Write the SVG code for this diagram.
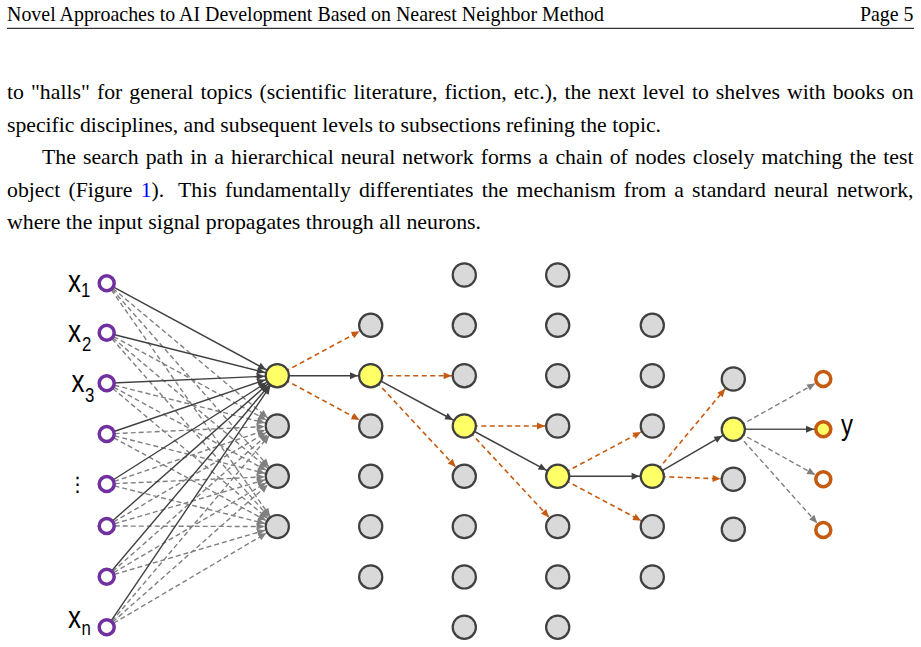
<svg xmlns="http://www.w3.org/2000/svg" width="921" height="647" viewBox="0 0 921 647">
<style>
.hdr{font-family:"Liberation Serif","Times New Roman",serif;font-size:19.9px;fill:#000}
.txt{font-family:"Liberation Serif","Times New Roman",serif;font-size:21.75px;fill:#000}
.lbl{font-family:"Liberation Sans",Arial,sans-serif;font-size:31px;fill:#000}
.sub{font-family:"Liberation Sans",Arial,sans-serif;font-size:20px;fill:#000}
.g{fill:#D9D9D9;stroke:#404040;stroke-width:2.2}
.yl{fill:#FFFF66;stroke:#404040;stroke-width:2.2}
.in{fill:#fff;stroke:#7030A0;stroke-width:3.5}
.out{fill:#fff;stroke:#C55A11;stroke-width:3.5}
.outy{fill:#FFFF66;stroke:#C55A11;stroke-width:3.5}
line{fill:none}
.sIn{stroke:#404040;stroke-width:1.4;marker-end:url(#eD12)}
.dIn{stroke:#808080;stroke-width:1.4;stroke-dasharray:5 3;marker-end:url(#eG12)}
.sL{stroke:#404040;stroke-width:1.5;marker-end:url(#eD12)}
.oL{stroke:#C55A11;stroke-width:1.6;stroke-dasharray:5 3.5;marker-end:url(#eO12)}
.sOut{stroke:#555555;stroke-width:1.5;marker-end:url(#eD9)}
.dOut{stroke:#808080;stroke-width:1.4;stroke-dasharray:5 3;marker-end:url(#eG9)}
</style>
<defs>
<marker id="eD12" markerUnits="userSpaceOnUse" orient="auto" overflow="visible" refX="12.7" refY="0" markerWidth="10" markerHeight="10"><path d="M-8,-3.5 L0,0 L-8,3.5 z" fill="#404040"/></marker>
<marker id="eG12" markerUnits="userSpaceOnUse" orient="auto" overflow="visible" refX="12.7" refY="0" markerWidth="10" markerHeight="10"><path d="M-8,-3.5 L0,0 L-8,3.5 z" fill="#808080"/></marker>
<marker id="eO12" markerUnits="userSpaceOnUse" orient="auto" overflow="visible" refX="12.7" refY="0" markerWidth="10" markerHeight="10"><path d="M-8,-3.5 L0,0 L-8,3.5 z" fill="#C55A11"/></marker>
<marker id="eD9" markerUnits="userSpaceOnUse" orient="auto" overflow="visible" refX="9.3" refY="0" markerWidth="10" markerHeight="10"><path d="M-8,-3.5 L0,0 L-8,3.5 z" fill="#404040"/></marker>
<marker id="eG9" markerUnits="userSpaceOnUse" orient="auto" overflow="visible" refX="9.3" refY="0" markerWidth="10" markerHeight="10"><path d="M-8,-3.5 L0,0 L-8,3.5 z" fill="#808080"/></marker>
</defs>
<rect width="921" height="647" fill="#fff"/>

<g id="page-text">
<text class="hdr" x="7" y="20.5" textLength="597" lengthAdjust="spacing">Novel Approaches to AI Development Based on Nearest Neighbor Method</text>
<text class="hdr" x="913.5" y="20.5" text-anchor="end">Page 5</text>
<line x1="7" y1="28.3" x2="914" y2="28.3" stroke="#000" stroke-width="1"/>
<text class="txt" x="7" y="99.3" word-spacing="1.6" textLength="906.5" lengthAdjust="spacing">to "halls" for general topics (scientific literature, fiction, etc.), the next level to shelves with books on</text>
<text class="txt" x="7" y="131.8" textLength="654" lengthAdjust="spacingAndGlyphs">specific disciplines, and subsequent levels to subsections refining the topic.</text>
<text class="txt" x="42" y="164.3" word-spacing="1.7" textLength="871.5" lengthAdjust="spacing">The search path in a hierarchical neural network forms a chain of nodes closely matching the test</text>
<text class="txt" x="7" y="196.8" word-spacing="2.7" textLength="906.5" lengthAdjust="spacing">object (Figure <tspan fill="#0000FF">1</tspan>). <tspan dx="6">This fundamentally differentiates the mechanism from a standard neural network,</tspan></text>
<text class="txt" x="7" y="229.3" textLength="474" lengthAdjust="spacingAndGlyphs">where the input signal propagates through all neurons.</text>
</g>

<g id="connectors">
<line class="dIn" x1="106.7" y1="283.3" x2="277.3" y2="426"/>
<line class="dIn" x1="106.7" y1="283.3" x2="277.3" y2="476.3"/>
<line class="dIn" x1="106.7" y1="283.3" x2="277.3" y2="526.6"/>
<line class="dIn" x1="106.7" y1="332.7" x2="277.3" y2="426"/>
<line class="dIn" x1="106.7" y1="332.7" x2="277.3" y2="476.3"/>
<line class="dIn" x1="106.7" y1="332.7" x2="277.3" y2="526.6"/>
<line class="dIn" x1="106.7" y1="383.3" x2="277.3" y2="426"/>
<line class="dIn" x1="106.7" y1="383.3" x2="277.3" y2="476.3"/>
<line class="dIn" x1="106.7" y1="383.3" x2="277.3" y2="526.6"/>
<line class="dIn" x1="106.7" y1="434" x2="277.3" y2="426"/>
<line class="dIn" x1="106.7" y1="434" x2="277.3" y2="476.3"/>
<line class="dIn" x1="106.7" y1="434" x2="277.3" y2="526.6"/>
<line class="dIn" x1="106.7" y1="484" x2="277.3" y2="426"/>
<line class="dIn" x1="106.7" y1="484" x2="277.3" y2="476.3"/>
<line class="dIn" x1="106.7" y1="484" x2="277.3" y2="526.6"/>
<line class="dIn" x1="106.7" y1="526" x2="277.3" y2="426"/>
<line class="dIn" x1="106.7" y1="526" x2="277.3" y2="476.3"/>
<line class="dIn" x1="106.7" y1="526" x2="277.3" y2="526.6"/>
<line class="dIn" x1="106.7" y1="576.7" x2="277.3" y2="426"/>
<line class="dIn" x1="106.7" y1="576.7" x2="277.3" y2="476.3"/>
<line class="dIn" x1="106.7" y1="576.7" x2="277.3" y2="526.6"/>
<line class="dIn" x1="106.7" y1="627.3" x2="277.3" y2="426"/>
<line class="dIn" x1="106.7" y1="627.3" x2="277.3" y2="476.3"/>
<line class="dIn" x1="106.7" y1="627.3" x2="277.3" y2="526.6"/>
<line class="sIn" x1="106.7" y1="283.3" x2="277.3" y2="375.7"/>
<line class="sIn" x1="106.7" y1="332.7" x2="277.3" y2="375.7"/>
<line class="sIn" x1="106.7" y1="383.3" x2="277.3" y2="375.7"/>
<line class="sIn" x1="106.7" y1="434" x2="277.3" y2="375.7"/>
<line class="sIn" x1="106.7" y1="484" x2="277.3" y2="375.7"/>
<line class="sIn" x1="106.7" y1="526" x2="277.3" y2="375.7"/>
<line class="sIn" x1="106.7" y1="576.7" x2="277.3" y2="375.7"/>
<line class="sIn" x1="106.7" y1="627.3" x2="277.3" y2="375.7"/>
<line class="oL" x1="277.3" y1="375.7" x2="370.7" y2="325.3"/>
<line class="oL" x1="277.3" y1="375.7" x2="370.7" y2="426"/>
<line class="sL" x1="277.3" y1="375.7" x2="370.7" y2="375.7"/>
<line class="oL" x1="370.7" y1="375.7" x2="464.3" y2="375.7"/>
<line class="oL" x1="370.7" y1="375.7" x2="464.3" y2="476.3"/>
<line class="sL" x1="370.7" y1="375.7" x2="464.3" y2="426"/>
<line class="oL" x1="464.3" y1="426" x2="557.7" y2="426"/>
<line class="oL" x1="464.3" y1="426" x2="557.7" y2="526.6"/>
<line class="sL" x1="464.3" y1="426" x2="557.7" y2="476.3"/>
<line class="oL" x1="557.7" y1="476.3" x2="652.3" y2="426"/>
<line class="oL" x1="557.7" y1="476.3" x2="652.3" y2="526.6"/>
<line class="sL" x1="557.7" y1="476.3" x2="652.3" y2="476.3"/>
<line class="oL" x1="652.3" y1="476.3" x2="733.3" y2="379"/>
<line class="oL" x1="652.3" y1="476.3" x2="733.3" y2="479.3"/>
<line class="sL" x1="652.3" y1="476.3" x2="733.3" y2="429.3"/>
<line class="dOut" x1="733.3" y1="429.3" x2="823.3" y2="379"/>
<line class="dOut" x1="733.3" y1="429.3" x2="823.3" y2="479.3"/>
<line class="dOut" x1="733.3" y1="429.3" x2="823.3" y2="530"/>
<line class="sOut" x1="733.3" y1="429.3" x2="823.3" y2="429.3"/>
</g>

<g id="inputs">
<circle class="in" cx="106.7" cy="283.3" r="7.5"/>
<circle class="in" cx="106.7" cy="332.7" r="7.5"/>
<circle class="in" cx="106.7" cy="383.3" r="7.5"/>
<circle class="in" cx="106.7" cy="434" r="7.5"/>
<circle class="in" cx="106.7" cy="484" r="7.5"/>
<circle class="in" cx="106.7" cy="526" r="7.5"/>
<circle class="in" cx="106.7" cy="576.7" r="7.5"/>
<circle class="in" cx="106.7" cy="627.3" r="7.5"/>
</g>
<g id="input-labels">
<text class="lbl" transform="translate(68,291.7) scale(0.84,1)">x</text>
<text class="sub" transform="translate(81,297) scale(0.84,1)">1</text>
<text class="lbl" transform="translate(68,341.7) scale(0.84,1)">x</text>
<text class="sub" transform="translate(82,350.7) scale(0.84,1)">2</text>
<text class="lbl" transform="translate(71.5,391.7) scale(0.84,1)">x</text>
<text class="sub" transform="translate(85,401.7) scale(0.84,1)">3</text>
<text style="font-family:'DejaVu Sans',sans-serif;font-size:20px" x="77.5" y="491" text-anchor="middle">⋮</text>
<text class="lbl" transform="translate(68,628) scale(0.84,1)">x</text>
<text class="sub" transform="translate(81.5,635) scale(0.84,1)">n</text>
</g>

<g id="layer1">
<circle class="yl" cx="277.3" cy="375.7" r="11.6"/>
<circle class="g" cx="277.3" cy="426" r="11.6"/>
<circle class="g" cx="277.3" cy="476.3" r="11.6"/>
<circle class="g" cx="277.3" cy="526.6" r="11.6"/>
</g>
<g id="layer2">
<circle class="g" cx="370.7" cy="325.3" r="11.6"/>
<circle class="yl" cx="370.7" cy="375.7" r="11.6"/>
<circle class="g" cx="370.7" cy="426" r="11.6"/>
<circle class="g" cx="370.7" cy="476.3" r="11.6"/>
<circle class="g" cx="370.7" cy="526.6" r="11.6"/>
<circle class="g" cx="370.7" cy="576.9" r="11.6"/>
</g>
<g id="layer3">
<circle class="g" cx="464.3" cy="275" r="11.6"/>
<circle class="g" cx="464.3" cy="325.3" r="11.6"/>
<circle class="g" cx="464.3" cy="375.7" r="11.6"/>
<circle class="yl" cx="464.3" cy="426" r="11.6"/>
<circle class="g" cx="464.3" cy="476.3" r="11.6"/>
<circle class="g" cx="464.3" cy="526.6" r="11.6"/>
<circle class="g" cx="464.3" cy="576.9" r="11.6"/>
<circle class="g" cx="464.3" cy="627.2" r="11.6"/>
</g>
<g id="layer4">
<circle class="g" cx="557.7" cy="275" r="11.6"/>
<circle class="g" cx="557.7" cy="325.3" r="11.6"/>
<circle class="g" cx="557.7" cy="375.7" r="11.6"/>
<circle class="g" cx="557.7" cy="426" r="11.6"/>
<circle class="yl" cx="557.7" cy="476.3" r="11.6"/>
<circle class="g" cx="557.7" cy="526.6" r="11.6"/>
<circle class="g" cx="557.7" cy="576.9" r="11.6"/>
<circle class="g" cx="557.7" cy="627.2" r="11.6"/>
</g>
<g id="layer5">
<circle class="g" cx="652.3" cy="325.3" r="11.6"/>
<circle class="g" cx="652.3" cy="375.7" r="11.6"/>
<circle class="g" cx="652.3" cy="426" r="11.6"/>
<circle class="yl" cx="652.3" cy="476.3" r="11.6"/>
<circle class="g" cx="652.3" cy="526.6" r="11.6"/>
<circle class="g" cx="652.3" cy="576.9" r="11.6"/>
</g>
<g id="layer6">
<circle class="g" cx="733.3" cy="379" r="11.6"/>
<circle class="yl" cx="733.3" cy="429.3" r="11.6"/>
<circle class="g" cx="733.3" cy="479.3" r="11.6"/>
<circle class="g" cx="733.3" cy="529.3" r="11.6"/>
</g>
<g id="outputs">
<circle class="out" cx="823.3" cy="379" r="7.5"/>
<circle class="outy" cx="823.3" cy="429.3" r="7.5"/>
<circle class="out" cx="823.3" cy="479.3" r="7.5"/>
<circle class="out" cx="823.3" cy="530" r="7.5"/>
<text class="lbl" transform="translate(841,435) scale(0.8,1)" style="font-size:30px">y</text>
</g>
</svg>
